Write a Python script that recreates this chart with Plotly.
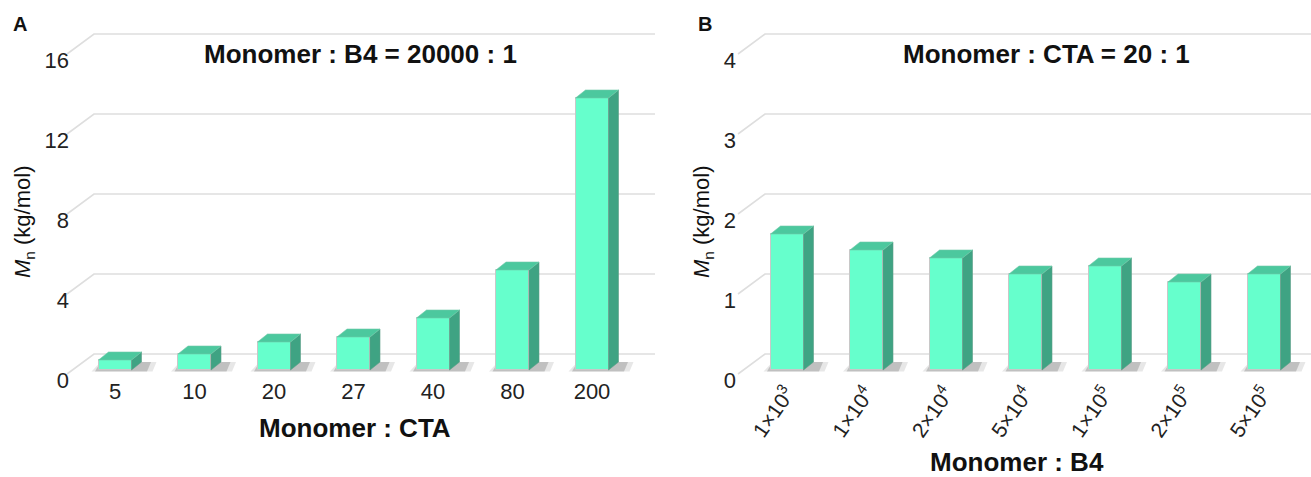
import plotly.graph_objects as go

# ---------------- data ----------------
cats_a = ["5", "10", "20", "27", "40", "80", "200"]
vals_a = [0.5, 0.8, 1.4, 1.65, 2.6, 5.0, 13.6]
yticks_a = [0, 4, 8, 12, 16]

cats_b = ["1×10<sup>3</sup>", "1×10<sup>4</sup>", "2×10<sup>4</sup>", "5×10<sup>4</sup>",
          "1×10<sup>5</sup>", "2×10<sup>5</sup>", "5×10<sup>5</sup>"]
vals_b = [1.7, 1.5, 1.4, 1.2, 1.3, 1.1, 1.2]
yticks_b = [0, 1, 2, 3, 4]

title_a = "Monomer : B4 = 20000 : 1"
title_b = "Monomer : CTA = 20 : 1"
xtitle_a = "Monomer : CTA"
xtitle_b = "Monomer : B4"
ytitle = "<i>M</i><sub>n</sub> (kg/mol)"

# ---------------- style / geometry (pixels) ----------------
W, H = 1311, 477
FONT = "Liberation Sans, Arial, sans-serif"
FRONT = "#66FFCC"
SIDE = "#3FA383"
TOP = "#4CC89E"
EDGE = "#c8c8c8"
GRID = "#dedede"

BASE_PY = 370          # pixel row of bar bases
STEP = 79.5            # px between categories
HALF_W = 16.5          # half bar width, px
DEPTH = (10, -8)       # bar depth offset, px
WALL = (27, -20)       # wall depth offset, px
DOM_TOP, DOM_BOT = 20, 400

panels = [
    dict(cats=cats_a, vals=vals_a, ticks=yticks_a, c0=115, sy=20, xd=(60, 660),
         corner=67, grid_end=655, yaxpos=69, xs="x", ys="y", angle=0, xfs=22),
    dict(cats=cats_b, vals=vals_b, ticks=yticks_b, c0=787, sy=80, xd=(730, 1311),
         corner=738, grid_end=1311, yaxpos=736, xs="x2", ys="y2", angle=-55, xfs=21),
]

fig = go.Figure()
shapes = []

for k, p in enumerate(panels):
    c0, sy = p["c0"], p["sy"]
    dxu = lambda px: px / STEP
    dyu = lambda py, sy=sy: -py / sy
    xref, yref = p["xs"], p["ys"]

    # perspective gridlines (side wall diagonal + back wall)
    for v in p["ticks"]:
        x0 = (p["corner"] - c0) / STEP
        y0 = v - 4 / sy
        x1 = x0 + dxu(WALL[0])
        y1 = y0 + dyu(WALL[1])
        x2 = (p["grid_end"] - c0) / STEP
        shapes.append(dict(type="path", xref=xref, yref=yref, layer="below",
                           path=f"M{x0},{y0} L{x1},{y1} L{x2},{y1}",
                           line=dict(color=GRID, width=1.6)))

    n = len(p["vals"])
    idx = list(range(n))
    hw = dxu(HALF_W)
    ddx, ddy = dxu(DEPTH[0]), dyu(DEPTH[1])

    # floor shadows
    for i in idx:
        xl, xr = i - hw, i + hw
        for grow, col in ((1.0, "rgba(175,175,175,0.3)"), (0.5, "rgba(120,120,120,0.35)")):
            pts = [(xl - dxu(7 * grow), dyu(1.5)), (xr + ddx + dxu(11 * grow), dyu(1.5)),
                   (xr + ddx + dxu(11 * grow) + dxu(4), ddy), (xl + dxu(2), ddy)]
            path = "M" + " L".join(f"{a},{b}" for a, b in pts) + " Z"
            shapes.append(dict(type="path", xref=xref, yref=yref, layer="below",
                               path=path, fillcolor=col, line=dict(width=0)))

    # front faces
    fig.add_trace(go.Bar(x=idx, y=p["vals"], width=2 * hw, marker=dict(
        color=FRONT, line=dict(color=EDGE, width=1)), xaxis=xref, yaxis=yref,
        hoverinfo="skip", showlegend=False))

    # side and top faces
    sx, sy_ = [], []
    tx, ty = [], []
    for i, v in zip(idx, p["vals"]):
        xl, xr = i - hw, i + hw
        sx += [xr, xr, xr + ddx, xr + ddx, xr, None]
        sy_ += [0, v, v + ddy, ddy, 0, None]
        tx += [xl, xr, xr + ddx, xl + ddx, xl, None]
        ty += [v, v, v + ddy, v + ddy, v, None]
    fig.add_trace(go.Scatter(x=sx, y=sy_, mode="lines", fill="toself", fillcolor=SIDE,
                             line=dict(color="#5a9e86", width=0.6), xaxis=xref, yaxis=yref,
                             hoverinfo="skip", showlegend=False))
    fig.add_trace(go.Scatter(x=tx, y=ty, mode="lines", fill="toself", fillcolor=TOP,
                             line=dict(color="#6fc9a8", width=0.6), xaxis=xref, yaxis=yref,
                             hoverinfo="skip", showlegend=False))

    # axes
    xr0 = (p["xd"][0] - c0) / STEP
    xr1 = (p["xd"][1] - c0) / STEP
    yr0 = (BASE_PY - DOM_BOT) / sy
    yr1 = (BASE_PY - DOM_TOP) / sy
    xkey = "xaxis" if k == 0 else "xaxis2"
    ykey = "yaxis" if k == 0 else "yaxis2"
    fig.update_layout(**{
        xkey: dict(domain=[p["xd"][0] / W, p["xd"][1] / W], range=[xr0, xr1],
                   anchor="free", position=1 - 376 / H,
                   tickvals=idx, ticktext=p["cats"], tickangle=p["angle"],
                   showgrid=False, zeroline=False, showline=False, ticks="",
                   tickfont=dict(family=FONT, size=p["xfs"], color="#222"),
                   fixedrange=True),
        ykey: dict(domain=[1 - DOM_BOT / H, 1 - DOM_TOP / H], range=[yr0, yr1],
                   anchor="free", position=p["yaxpos"] / W,
                   tickvals=[v - 10 / sy for v in p["ticks"]],
                   ticktext=[str(v) for v in p["ticks"]],
                   showgrid=False, zeroline=False, showline=False, ticks="",
                   tickfont=dict(family=FONT, size=22, color="#222"),
                   fixedrange=True),
    })

ann = []
def add_text(txt, px, py, size, bold=False, angle=0):
    ann.append(dict(text=f"<b>{txt}</b>" if bold else txt, x=px / W, y=1 - py / H,
                    xref="paper", yref="paper", xanchor="center", yanchor="middle",
                    showarrow=False, textangle=angle,
                    font=dict(family=FONT, size=size, color="#111")))

add_text("A", 20, 24, 20, bold=True)
add_text("B", 705, 24, 20, bold=True)
add_text(title_a, 360, 54, 26, bold=True)
add_text(title_b, 1046, 54, 26, bold=True)
add_text(xtitle_a, 355, 428, 26, bold=True)
add_text(xtitle_b, 1017, 462, 26, bold=True)
add_text(ytitle, 24, 222, 22, angle=-90)
add_text(ytitle, 703, 222, 22, angle=-90)

fig.update_layout(width=W, height=H, margin=dict(l=0, r=0, t=0, b=0),
                  paper_bgcolor="white", plot_bgcolor="white",
                  shapes=shapes, annotations=ann, bargap=0, showlegend=False)

fig.write_html("out.html", config={"displayModeBar": False},
               post_script="document.body.style.margin='0';")
